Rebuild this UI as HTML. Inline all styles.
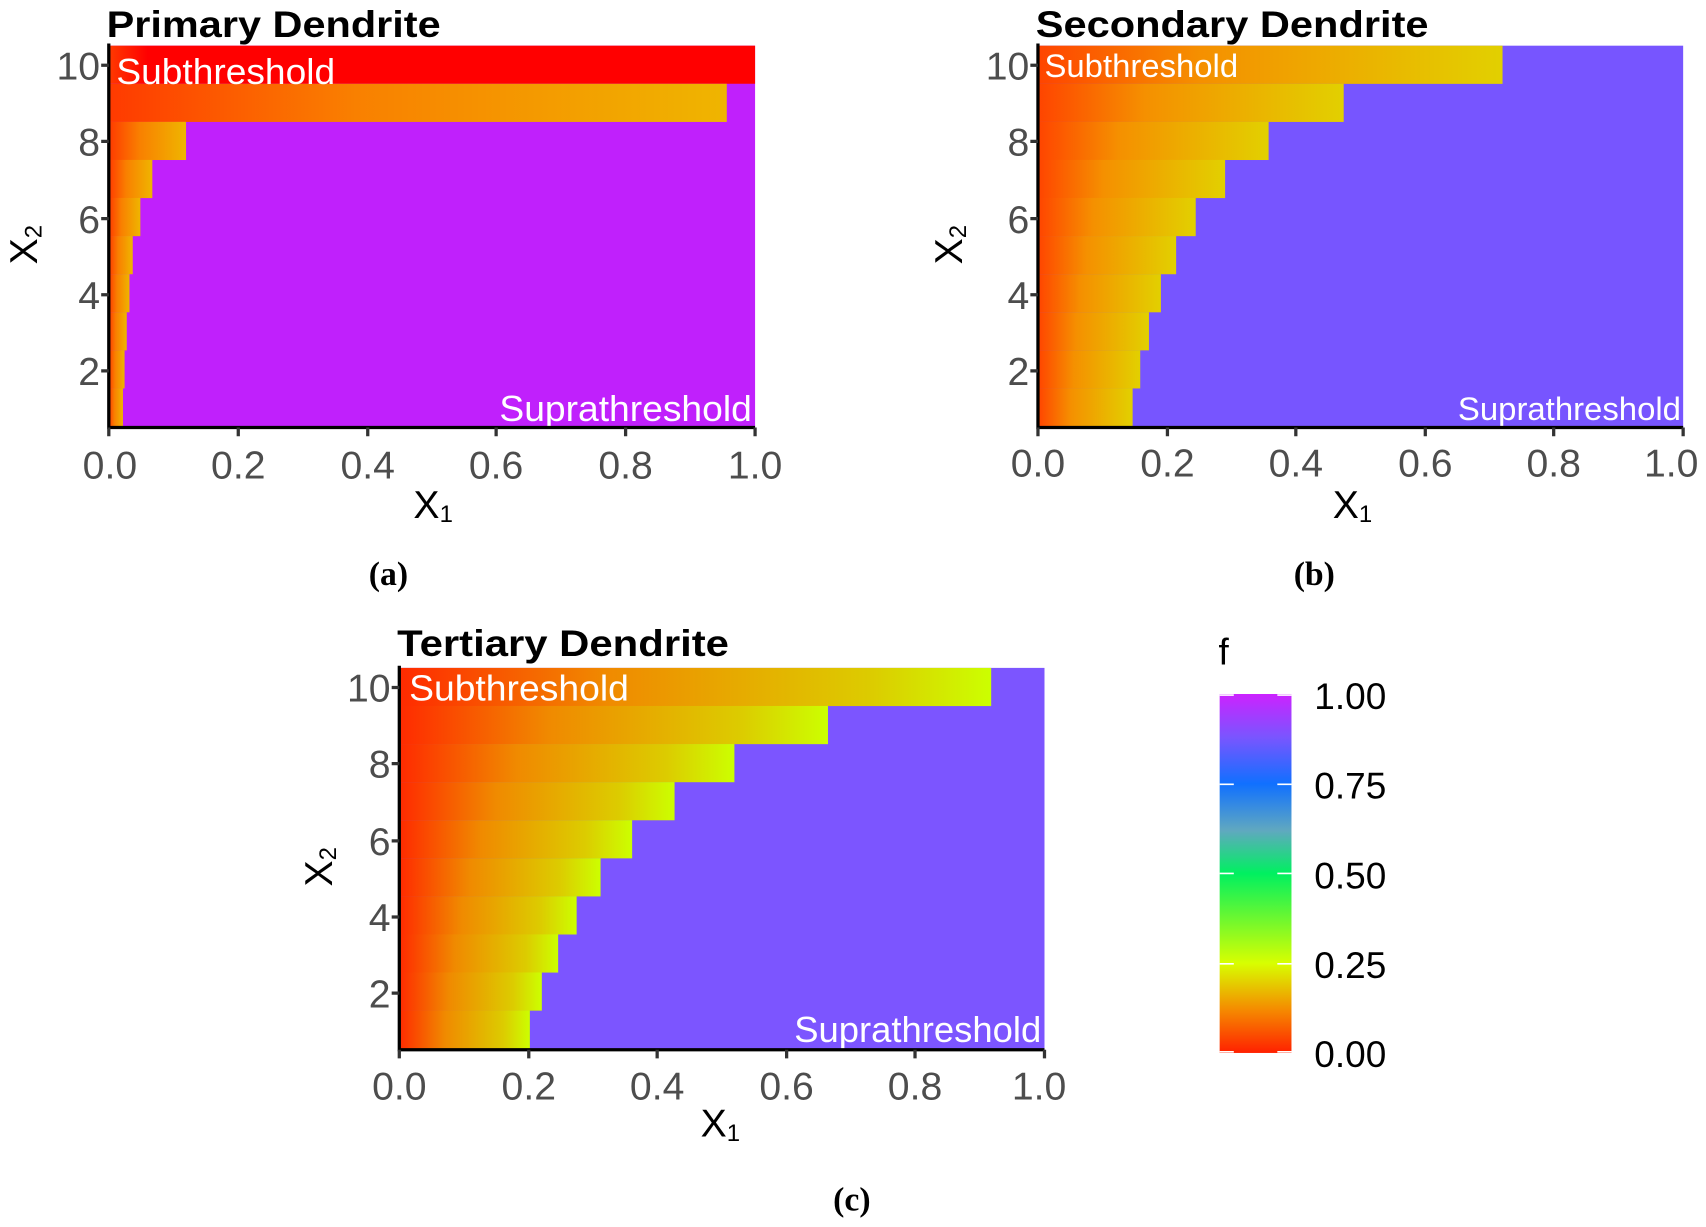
<!DOCTYPE html>
<html><head><meta charset="utf-8"><style>html,body{margin:0;padding:0;background:#fff}svg{display:block}</style></head>
<body>
<svg width="1706" height="1227" viewBox="0 0 1568 1128" xmlns="http://www.w3.org/2000/svg" preserveAspectRatio="none" font-family="Liberation Sans, sans-serif">
<defs>
<linearGradient id="ga" x1="0" x2="1" y1="0" y2="0"><stop offset="0" stop-color="#ff3a00"/><stop offset="0.4" stop-color="#f98000"/><stop offset="1" stop-color="#efb500"/></linearGradient>
<linearGradient id="gb" x1="0" x2="1" y1="0" y2="0"><stop offset="0" stop-color="#ff4400"/><stop offset="0.35" stop-color="#f59000"/><stop offset="1" stop-color="#e2d000"/></linearGradient>
<linearGradient id="gc" x1="0" x2="1" y1="0" y2="0"><stop offset="0" stop-color="#ff2a00"/><stop offset="0.35" stop-color="#f08a00"/><stop offset="0.8" stop-color="#dccc00"/><stop offset="1" stop-color="#ccff00"/></linearGradient>
<linearGradient id="gr" x1="0" x2="1" y1="0" y2="0"><stop offset="0" stop-color="#ff3a00"/><stop offset="0.06" stop-color="#ff0000"/><stop offset="1" stop-color="#ff0000"/></linearGradient>
<linearGradient id="leg" x1="0" x2="0" y1="1" y2="0"><stop offset="0" stop-color="#ff2000"/><stop offset="0.12" stop-color="#f58a00"/><stop offset="0.25" stop-color="#d8ff00"/><stop offset="0.5" stop-color="#00f060"/><stop offset="0.62" stop-color="#60a8c0"/><stop offset="0.75" stop-color="#1070ff"/><stop offset="0.88" stop-color="#7a55ff"/><stop offset="1" stop-color="#cc22ff"/></linearGradient>
</defs>
<g fill="#4d4d4d" font-size="36">
<!-- Panel A -->
<text x="98" y="34" font-size="34" font-weight="bold" fill="#000" textLength="307" lengthAdjust="spacingAndGlyphs">Primary Dendrite</text>
<rect x="100" y="42" width="594" height="351" fill="#c020fc"/>
<rect x="100" y="42" width="594" height="35" fill="url(#gr)"/>
<rect x="100" y="77" width="568" height="35.1" fill="url(#ga)"/>
<rect x="100" y="112" width="71" height="35.1" fill="url(#ga)"/>
<rect x="100" y="147" width="40" height="35.1" fill="url(#ga)"/>
<rect x="100" y="182" width="29" height="35.1" fill="url(#ga)"/>
<rect x="100" y="217" width="22" height="35.1" fill="url(#ga)"/>
<rect x="100" y="252" width="19" height="35.1" fill="url(#ga)"/>
<rect x="100" y="287" width="16.5" height="35.1" fill="url(#ga)"/>
<rect x="100" y="322" width="14.5" height="35.1" fill="url(#ga)"/>
<rect x="100" y="357" width="13" height="36" fill="url(#ga)"/>
<text x="107" y="77" fill="#fff" font-size="33" textLength="201" lengthAdjust="spacingAndGlyphs">Subthreshold</text>
<text x="459" y="387" fill="#fff" font-size="33" textLength="232" lengthAdjust="spacingAndGlyphs">Suprathreshold</text>
<path d="M100 40V393H694" stroke="#000" stroke-width="3" fill="none"/>
<g stroke="#333" stroke-width="3"><path d="M93 60h7M93 130h7M93 201h7M93 271h7M93 341h7M100 393v8M219 393v8M338 393v8M456 393v8M575 393v8M694 393v8"/></g>
<g text-anchor="end"><text x="92" y="73">10</text><text x="92" y="143">8</text><text x="92" y="214">6</text><text x="92" y="284">4</text><text x="92" y="354">2</text></g>
<g text-anchor="middle"><text x="101" y="440">0.0</text><text x="219" y="440">0.2</text><text x="338" y="440">0.4</text><text x="456" y="440">0.6</text><text x="575" y="440">0.8</text><text x="694" y="440">1.0</text></g>
<text x="380" y="476" fill="#000">X<tspan font-size="22" dy="4">1</tspan></text>
<text transform="translate(34,243) rotate(-90)" fill="#000">X<tspan font-size="22" dy="4">2</tspan></text>
<text x="357" y="538" font-family="Liberation Serif, serif" font-weight="bold" font-size="31" fill="#000" text-anchor="middle">(a)</text>

<!-- Panel B -->
<text x="952" y="34" font-size="34" font-weight="bold" fill="#000" textLength="361" lengthAdjust="spacingAndGlyphs">Secondary Dendrite</text>
<rect x="954" y="42" width="593" height="351" fill="#7755ff"/>
<rect x="954" y="42" width="427" height="35.1" fill="url(#gb)"/>
<rect x="954" y="77" width="281" height="35.1" fill="url(#gb)"/>
<rect x="954" y="112" width="212" height="35.1" fill="url(#gb)"/>
<rect x="954" y="147" width="172" height="35.1" fill="url(#gb)"/>
<rect x="954" y="182" width="145" height="35.1" fill="url(#gb)"/>
<rect x="954" y="217" width="127" height="35.1" fill="url(#gb)"/>
<rect x="954" y="252" width="113" height="35.1" fill="url(#gb)"/>
<rect x="954" y="287" width="102" height="35.1" fill="url(#gb)"/>
<rect x="954" y="322" width="94" height="35.1" fill="url(#gb)"/>
<rect x="954" y="357" width="87" height="36" fill="url(#gb)"/>
<text x="960" y="71" fill="#fff" font-size="30" textLength="178" lengthAdjust="spacingAndGlyphs">Subthreshold</text>
<text x="1340" y="386" fill="#fff" font-size="30" textLength="205" lengthAdjust="spacingAndGlyphs">Suprathreshold</text>
<path d="M954 40V393H1547" stroke="#000" stroke-width="3" fill="none"/>
<g stroke="#333" stroke-width="3"><path d="M947 60h7M947 130h7M947 201h7M947 271h7M947 341h7M954 393v8M1073 393v8M1191 393v8M1310 393v8M1428 393v8M1547 393v8"/></g>
<g text-anchor="end"><text x="946" y="73">10</text><text x="946" y="143">8</text><text x="946" y="214">6</text><text x="946" y="284">4</text><text x="946" y="354">2</text></g>
<g text-anchor="middle"><text x="954" y="438">0.0</text><text x="1073" y="438">0.2</text><text x="1191" y="438">0.4</text><text x="1310" y="438">0.6</text><text x="1428" y="438">0.8</text><text x="1536" y="438">1.0</text></g>
<text x="1225" y="476" fill="#000">X<tspan font-size="22" dy="4">1</tspan></text>
<text transform="translate(884,243) rotate(-90)" fill="#000">X<tspan font-size="22" dy="4">2</tspan></text>
<text x="1208" y="538" font-family="Liberation Serif, serif" font-weight="bold" font-size="31" fill="#000" text-anchor="middle">(b)</text>

<!-- Panel C -->
<text x="365" y="603" font-size="34" font-weight="bold" fill="#000" textLength="305" lengthAdjust="spacingAndGlyphs">Tertiary Dendrite</text>
<rect x="367" y="614" width="593" height="351" fill="#7c55ff"/>
<rect x="367" y="614" width="544" height="35.1" fill="url(#gc)"/>
<rect x="367" y="649" width="394" height="35.1" fill="url(#gc)"/>
<rect x="367" y="684" width="308" height="35.1" fill="url(#gc)"/>
<rect x="367" y="719" width="253" height="35.1" fill="url(#gc)"/>
<rect x="367" y="754" width="214" height="35.1" fill="url(#gc)"/>
<rect x="367" y="789" width="185" height="35.1" fill="url(#gc)"/>
<rect x="367" y="824" width="163" height="35.1" fill="url(#gc)"/>
<rect x="367" y="859" width="146" height="35.1" fill="url(#gc)"/>
<rect x="367" y="894" width="131" height="35.1" fill="url(#gc)"/>
<rect x="367" y="929" width="120" height="36" fill="url(#gc)"/>
<text x="376" y="644" fill="#fff" font-size="33" textLength="202" lengthAdjust="spacingAndGlyphs">Subthreshold</text>
<text x="730" y="958" fill="#fff" font-size="33" textLength="227" lengthAdjust="spacingAndGlyphs">Suprathreshold</text>
<path d="M367 612V965H960" stroke="#000" stroke-width="3" fill="none"/>
<g stroke="#333" stroke-width="3"><path d="M360 632h7M360 702h7M360 773h7M360 843h7M360 913h7M367 965v8M486 965v8M604 965v8M723 965v8M841 965v8M960 965v8"/></g>
<g text-anchor="end"><text x="359" y="645">10</text><text x="359" y="715">8</text><text x="359" y="786">6</text><text x="359" y="856">4</text><text x="359" y="926">2</text></g>
<g text-anchor="middle"><text x="367" y="1011">0.0</text><text x="486" y="1011">0.2</text><text x="604" y="1011">0.4</text><text x="723" y="1011">0.6</text><text x="841" y="1011">0.8</text><text x="955" y="1011">1.0</text></g>
<text x="644" y="1045" fill="#000">X<tspan font-size="22" dy="4">1</tspan></text>
<text transform="translate(305,815) rotate(-90)" fill="#000">X<tspan font-size="22" dy="4">2</tspan></text>
<text x="783" y="1113" font-family="Liberation Serif, serif" font-weight="bold" font-size="31" fill="#000" text-anchor="middle">(c)</text>

<!-- Legend -->
<text x="1120" y="611" fill="#000" font-size="34">f</text>
<rect x="1121" y="638" width="66" height="330" fill="url(#leg)"/>
<g stroke="#fff" stroke-width="1.5"><path d="M1121 639h13M1174 639h13M1121 721h13M1174 721h13M1121 803h13M1174 803h13M1121 886h13M1174 886h13M1121 967h13M1174 967h13"/></g>
<g fill="#000" font-size="34"><text x="1208" y="652">1.00</text><text x="1208" y="734">0.75</text><text x="1208" y="817">0.50</text><text x="1208" y="899">0.25</text><text x="1208" y="981">0.00</text></g>
</g>
</svg>
</body></html>
